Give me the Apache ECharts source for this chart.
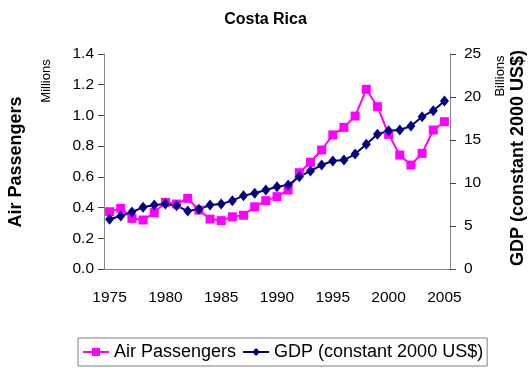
<!DOCTYPE html>
<html>
<head>
<meta charset="utf-8">
<script src="https://cdn.jsdelivr.net/npm/echarts@6/dist/echarts.min.js"></script>
<style>
  html, body { margin: 0; padding: 0; background: #fff; }
  #chart { width: 531px; height: 369px; }
</style>
</head>
<body>
<div id="chart"></div>
<script>
const years = []
for (let y = 1975; y <= 2005; y++) years.push(String(y))

// millions of passengers
const airPassengers = [
  0.373, 0.395, 0.33, 0.319, 0.367, 0.434, 0.423, 0.46, 0.384, 0.325,
  0.315, 0.34, 0.35, 0.405, 0.445, 0.471, 0.514, 0.627, 0.695, 0.775,
  0.873, 0.922, 0.996, 1.17, 1.057, 0.877, 0.742, 0.677, 0.753, 0.905,
  0.959
]

// billions, constant 2000 US$
const gdp = [
  5.78, 6.16, 6.63, 7.17, 7.44, 7.56, 7.36, 6.74, 6.94, 7.44,
  7.56, 7.95, 8.53, 8.8, 9.19, 9.57, 9.77, 10.73, 11.4, 12.09,
  12.56, 12.67, 13.37, 14.5, 15.66, 16.08, 16.16, 16.63, 17.71, 18.41,
  19.53
]

const font = 'Liberation Sans, Arial, sans-serif'
const axisGray = '#868686'

const chart = echarts.init(document.getElementById('chart'))

chart.setOption({
  animation: false,
  textStyle: { fontFamily: font },
  title: {
    text: 'Costa Rica',
    left: 'center',
    top: 7,
    textStyle: { fontSize: 16, fontWeight: 'bold', color: '#000', fontFamily: font }
  },
  grid: { left: 104, right: 81, top: 54, bottom: 100 },
  legend: {
    bottom: 3,
    left: 78,
    padding: [5, 4, 5, 4],
    borderColor: '#7f7f7f',
    borderWidth: 1,
    itemWidth: 26,
    itemHeight: 10,
    itemGap: 6,
    textStyle: { fontSize: 18, color: '#000', fontFamily: font },
    data: ['Air Passengers', 'GDP (constant 2000 US$)']
  },
  xAxis: [
    {
      type: 'category',
      data: years,
      boundaryGap: true,
      axisLine: { lineStyle: { color: axisGray, width: 1 } },
      axisTick: { interval: 0, length: 6, lineStyle: { color: '#444' } },
      axisLabel: { interval: 4, fontSize: 15.5, color: '#000', margin: 21 }
    },
    {
      // inner half of the crossing tick marks
      type: 'category',
      data: years,
      position: 'bottom',
      boundaryGap: true,
      axisLine: { show: false },
      axisTick: { interval: 0, inside: true, length: 5, lineStyle: { color: '#444' } },
      axisLabel: { show: false }
    }
  ],
  yAxis: [
    {
      type: 'value',
      min: 0,
      max: 1.4,
      interval: 0.2,
      splitLine: { show: false },
      axisLine: { show: true, lineStyle: { color: axisGray } },
      axisTick: { show: true, length: 6, lineStyle: { color: '#444' } },
      axisLabel: { fontSize: 15.5, color: '#000', margin: 10, formatter: v => v.toFixed(1) }
    },
    {
      type: 'value',
      min: 0,
      max: 25,
      interval: 5,
      position: 'right',
      splitLine: { show: false },
      axisLine: { show: true, lineStyle: { color: axisGray } },
      axisTick: { show: true, length: 6, lineStyle: { color: '#444' } },
      axisLabel: { fontSize: 15.5, color: '#000', margin: 14 }
    }
  ],
  graphic: [
    {
      type: 'text', x: 16, y: 162, rotation: Math.PI / 2,
      style: { text: 'Air Passengers', font: 'bold 18px ' + font, fill: '#000', align: 'center', verticalAlign: 'middle' }
    },
    {
      type: 'text', x: 46, y: 81, rotation: Math.PI / 2,
      style: { text: 'Millions', font: '13px ' + font, fill: '#000', align: 'center', verticalAlign: 'middle' }
    },
    {
      type: 'text', x: 518, y: 158, rotation: Math.PI / 2,
      style: { text: 'GDP (constant 2000 US$)', font: 'bold 18px ' + font, fill: '#000', align: 'center', verticalAlign: 'middle' }
    },
    {
      type: 'text', x: 500, y: 76, rotation: Math.PI / 2,
      style: { text: 'Billions', font: '13px ' + font, fill: '#000', align: 'center', verticalAlign: 'middle' }
    }
  ],
  series: [
    {
      name: 'Air Passengers',
      type: 'line',
      yAxisIndex: 0,
      data: airPassengers,
      symbol: 'rect',
      symbolSize: 9,
      showAllSymbol: true,
      lineStyle: { color: '#ff00ff', width: 2 },
      itemStyle: { color: '#ff00ff' }
    },
    {
      name: 'GDP (constant 2000 US$)',
      type: 'line',
      yAxisIndex: 1,
      data: gdp,
      symbol: 'diamond',
      symbolSize: [9, 11],
      showAllSymbol: true,
      lineStyle: { color: '#000080', width: 2 },
      itemStyle: { color: '#000080' },
      z: 3
    }
  ]
})
</script>
</body>
</html>
